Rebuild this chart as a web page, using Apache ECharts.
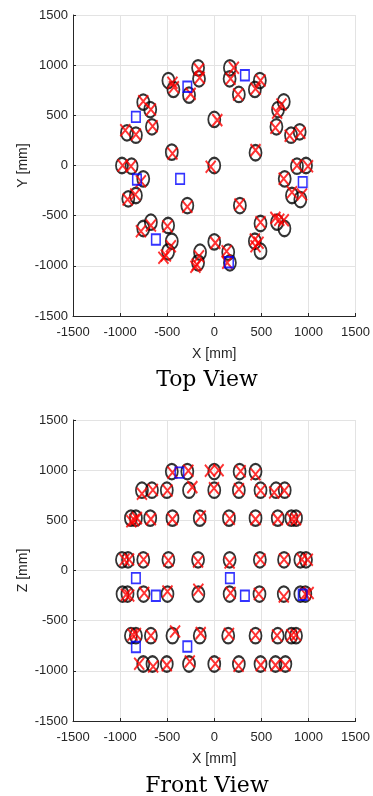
<!DOCTYPE html>
<html><head><meta charset="utf-8">
<script src="https://cdn.jsdelivr.net/npm/echarts@6/dist/echarts.min.js"></script>
<style>html,body{margin:0;padding:0;background:#fff}#c{width:373px;height:796px}</style>
</head><body><div id="c"></div>
<script>
// ---- data (mm) ----
const axisTicks = [-1500, -1000, -500, 0, 500, 1000, 1500];
const axisNames = { topX: 'X [mm]', topY: 'Y [mm]', frontX: 'X [mm]', frontY: 'Z [mm]' };
const viewTitles = ['Top View', 'Front View'];

// Top view: [x, y]
const topCircles = [
  [-172,974],[-162,864],[-487,847],[-434,758],[-268,701],
  [166,974],[163,864],[261,708],[431,758],[484,847],
  [-754,631],[-680,558],[-662,386],[-927,326],[-832,302],
  [738,635],[677,558],[660,386],[815,302],[907,336],
  [0,459],[-451,133],[438,127],[0,0],
  [-980,0],[-878,-7],[-754,-133],[-913,-332],[-832,-299],
  [878,-7],[974,0],[748,-133],[825,-299],[914,-339],
  [-286,-399],[272,-399],
  [-754,-628],[-673,-565],[-490,-598],[-451,-755],[-490,-860],
  [-151,-864],[-172,-970],[0,-761],
  [148,-864],[166,-970],[431,-755],[491,-854],[491,-578],[667,-565],[745,-628]
];
const topCrosses = [
  [-162,958],[-155,874],[-444,824],[-429,780],[-251,714],
  [208,974],[173,864],[253,708],[438,764],[491,847],
  [-754,641],[-673,558],[-655,392],[-945,352],[-832,309],
  [713,608],[667,525],[649,376],[801,296],[914,326],
  [32,452],[-444,120],[438,153],[-38,-13],
  [-973,0],[-885,-7],[-779,-156],[-920,-339],[-839,-289],
  [878,0],[995,-7],[737,-133],[825,-266],[931,-289],
  [-286,-412],[268,-389],
  [-779,-655],[-673,-598],[-497,-605],[-461,-804],[-514,-897],
  [-162,-904],[-186,-987],[11,-771],
  [131,-854],[138,-970],[431,-738],[438,-804],[491,-565],[649,-522],[738,-545],
  [-540,-920],[-200,-1010],[470,-770],[690,-540]
];
const topSquares = [
  [-286,785],[325,900],[-832,485],[-363,-133],
  [-821,-140],[939,-166],[-620,-738],[156,-964]
];

// Front view: [x, z]
const frontCircles = [
  [-451,986],[-286,986],[0,986],[269,986],[438,986],
  [-768,800],[-662,800],[-504,800],[-268,800],[0,800],[261,800],[491,800],[656,800],[748,800],
  [-885,522],[-832,522],[-680,522],[-444,522],[-154,522],[156,522],[438,522],[674,522],[819,522],[868,522],
  [-980,107],[-916,107],[-754,107],[-487,107],[-172,107],[163,107],[484,107],[741,107],[914,107],[974,107],
  [-974,-235],[-921,-235],[-751,-235],[-497,-235],[-169,-235],[163,-235],[480,-235],[738,-235],[914,-235],[967,-235],
  [-885,-650],[-832,-650],[-673,-650],[-444,-650],[-154,-650],[148,-650],[438,-650],[674,-650],[819,-650],[868,-650],
  [-754,-932],[-656,-932],[-504,-932],[-268,-932],[0,-932],[261,-932],[491,-932],[650,-932],[755,-932]
];
const frontCrosses = [
  [-444,976],[-275,995],[-46,995],[46,1000],[280,990],[438,960],
  [-768,764],[-652,803],[-497,797],[-233,831],[-3,820],[262,810],[492,797],[636,777],[745,797],
  [-880,490],[-850,503],[-821,522],[-673,512],[-444,512],[-144,538],[165,515],[438,512],[674,512],[825,512],[868,512],
  [-954,107],[-905,110],[-750,110],[-487,100],[-172,90],[163,80],[490,110],[741,110],[930,110],[993,107],
  [-938,-242],[-903,-249],[-744,-225],[-497,-209],[-169,-192],[173,-225],[473,-235],[738,-259],[1002,-225],[967,-235],
  [-868,-640],[-832,-633],[-673,-650],[-416,-607],[-144,-624],[156,-633],[438,-646],[667,-647],[819,-646],[868,-643],
  [-797,-929],[-649,-956],[-504,-943],[-260,-906],[11,-929],[258,-949],[494,-943],[650,-943],[755,-943]
];
const frontSquares = [
  [-370,976],[-832,-76],[166,-76],[-620,-252],
  [325,-252],[939,-242],[-832,-763],[-286,-757]
];

// ---- chart ----
const chart = echarts.init(document.getElementById('c'), null, { renderer: 'canvas' });
const txt = '#262626';
const tickFont = '"Liberation Sans", Arial, sans-serif';
function axis(gridIndex, name, isY) {
  return {
    gridIndex, type: 'value', name, nameLocation: 'middle',
    nameGap: isY ? 43 : 31,
    nameMoveOverlap: false,
    nameTextStyle: { color: txt, fontSize: 14, fontFamily: tickFont },
    min: axisTicks[0], max: axisTicks[axisTicks.length - 1],
    interval: axisTicks[1] - axisTicks[0],
    axisLine: { show: true, onZero: false, lineStyle: { color: txt, width: 1 } },
    axisTick: { show: true, inside: true, length: 3, lineStyle: { color: txt } },
    axisLabel: { color: txt, fontSize: 13, fontFamily: tickFont, margin: isY ? 5 : 10, formatter: v => String(v) },
    splitLine: { show: true, lineStyle: { color: '#e3e3e3', width: 1 } }
  };
}
const circleStyle = { color: 'none', borderColor: '#000', borderWidth: 2 };
const crossStyle = { color: 'none', borderColor: '#ff0000', borderWidth: 2 };
const squareStyle = { color: 'none', borderColor: '#0000ff', borderWidth: 1.7 };
const crossPath = 'path://M0 0L10 10M10 0L0 10';
function series(idx, circles, crosses, squares) {
  return [
    { type: 'scatter', xAxisIndex: idx, yAxisIndex: idx, data: circles, symbol: 'circle', symbolSize: [12, 15.5], itemStyle: circleStyle, silent: true, z: 2 },
    { type: 'scatter', xAxisIndex: idx, yAxisIndex: idx, data: crosses, symbol: crossPath, symbolSize: [10, 12], itemStyle: crossStyle, silent: true, z: 3 },
    { type: 'scatter', xAxisIndex: idx, yAxisIndex: idx, data: squares, symbol: 'rect', symbolSize: [8.5, 10.5], itemStyle: squareStyle, silent: true, z: 4 }
  ];
}
chart.setOption({
  animation: false,
  backgroundColor: '#fff',
  grid: [
    { left: 73, width: 284, top: 15, height: 301 },
    { left: 73, width: 284, top: 420, height: 301 }
  ],
  xAxis: [axis(0, axisNames.topX, false), axis(1, axisNames.frontX, false)],
  yAxis: [axis(0, axisNames.topY, true), axis(1, axisNames.frontY, true)],
  series: [].concat(series(0, topCircles, topCrosses, topSquares), series(1, frontCircles, frontCrosses, frontSquares)),
  graphic: [
    { type: 'text', x: 207, y: 380, style: { text: viewTitles[0], fill: '#000', font: '22px "DejaVu Serif", serif', textAlign: 'center', textVerticalAlign: 'middle' } },
    { type: 'text', x: 207, y: 786, style: { text: viewTitles[1], fill: '#000', font: '22px "DejaVu Serif", serif', textAlign: 'center', textVerticalAlign: 'middle' } }
  ]
});
</script>
</body></html>
